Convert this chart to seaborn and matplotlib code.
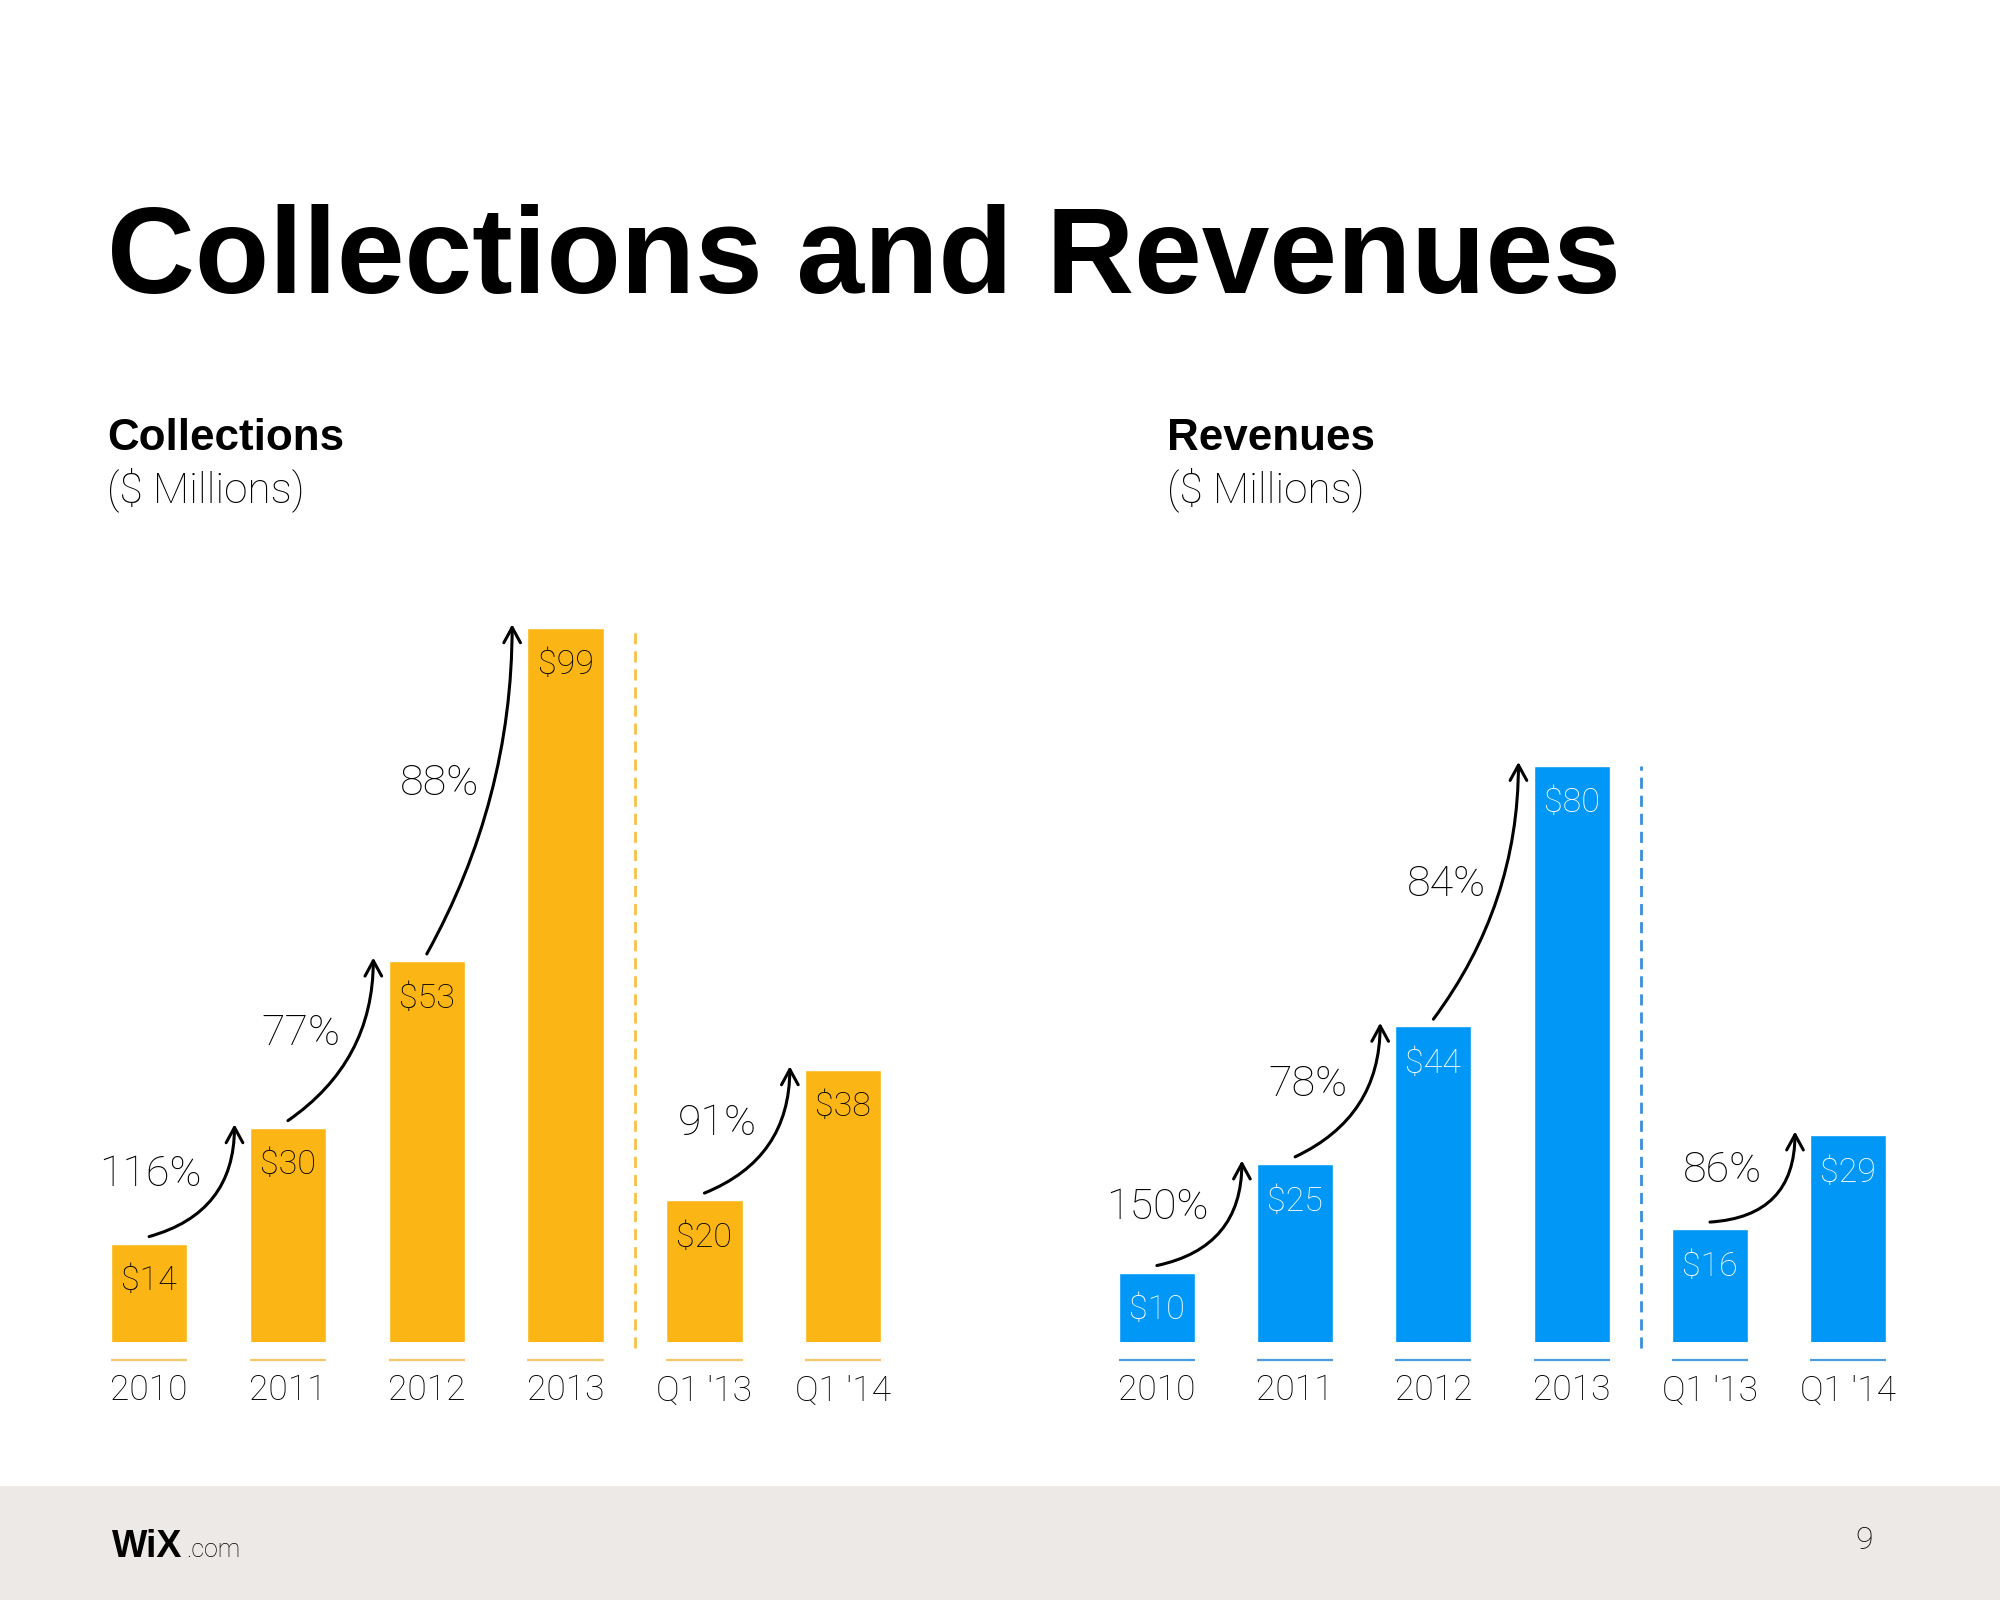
import numpy as np
import matplotlib
matplotlib.use("Agg")
import matplotlib.pyplot as plt
import seaborn as sns
from matplotlib.patches import Rectangle

# ---------------- data ----------------
categories = ["2010", "2011", "2012", "2013", "Q1 '13", "Q1 '14"]
collections = [14, 30, 53, 99, 20, 38]
revenues = [10, 25, 44, 80, 16, 29]
collections_labels = ["$14", "$30", "$53", "$99", "$20", "$38"]
revenues_labels = ["$10", "$25", "$44", "$80", "$16", "$29"]
growth_pairs = [(0, 1), (1, 2), (2, 3), (4, 5)]
collections_growth = ["116%", "77%", "88%", "91%"]
revenues_growth = ["150%", "78%", "84%", "86%"]

ORANGE = "#FBB616"
BLUE = "#0097F7"

sns.set_style("white")
plt.rcParams["font.family"] = ["Liberation Sans", "DejaVu Sans"]
plt.rcParams["text.color"] = "black"
plt.rcParams["xtick.color"] = "black"
LIGHT = ["Roboto", "Liberation Sans", "DejaVu Sans"]

W, H = 2000, 1600
fig = plt.figure(figsize=(20, 16), dpi=100)
fig.patch.set_facecolor("white")

# footer band
fig.add_artist(Rectangle((0, 0), 1, (H - 1486) / H, transform=fig.transFigure,
                         facecolor="#ECE9E6", edgecolor="none", zorder=0))

# titles
fig.text(107 / W, 1 - 293 / H, "Collections and Revenues", fontsize=87.6,
         fontweight="bold", va="baseline", ha="left", color="black")
for x0, name in [(107, "Collections"), (1167, "Revenues")]:
    fig.text(x0 / W, 1 - 450 / H, name, fontsize=31.7, fontweight="bold",
             va="baseline", ha="left", color="black")
    fig.text(x0 / W, 1 - 502 / H, "($ Millions)", fontsize=30.5, family=LIGHT,
             fontweight="light", va="baseline", ha="left", color="black")

# footer texts
fig.text(112 / W, 1 - 1557 / H, "WiX", fontsize=27, fontweight="bold",
         va="baseline", ha="left", color="black")
fig.text(186 / W, 1 - 1557 / H, ".com", fontsize=18, family=LIGHT,
         fontweight="light", va="baseline", ha="left", color="black")
fig.text(1864 / W, 1 - 1549 / H, "9", fontsize=23, family=LIGHT,
         fontweight="light", va="baseline", ha="center", color="black")

bottom_px, top_px = 1342, 600
ax_b = (H - bottom_px) / H
ax_h = (bottom_px - top_px) / H
ax_left = fig.add_axes([79.7 / W, ax_b, 833 / W, ax_h])
ax_right = fig.add_axes([1087.7 / W, ax_b, 829.7 / W, ax_h])

BAR_W = 0.55
Y_LO, Y_HI = 0.45, 102.85


def draw_panel(ax, vals, labels, growth, color, label_color, line_color, dash_color):
    sns.barplot(x=categories, y=vals, color=color, saturation=1, width=BAR_W,
                ax=ax, zorder=2)
    ax.set_xlim(-0.5, 5.5)
    ax.set_ylim(Y_LO, Y_HI)
    for s in ax.spines.values():
        s.set_visible(False)
    ax.set_yticks([])
    ax.set_xlabel("")
    ax.set_ylabel("")
    ax.set_facecolor("none")
    ax.tick_params(axis="x", length=0, pad=23)
    for t in ax.get_xticklabels():
        t.set_fontsize(25.5)
        t.set_family(LIGHT)
        t.set_fontweight("light")
        t.set_color("black")
    n = len(vals)
    idx = np.arange(n)
    # underline marks under each bar
    ax.hlines([Y_LO - 2.5] * n, idx - BAR_W / 2, idx + BAR_W / 2, color=line_color,
              lw=1.6, clip_on=False)
    # separator
    ax.vlines(3.5, Y_LO - 0.8, max(vals), color=dash_color, lw=2,
              linestyles=(0, (4, 2.5)), clip_on=False)
    # value labels
    for i, (v, lab) in enumerate(zip(vals, labels)):
        ax.annotate(lab, (i, v), xytext=(0, -27), textcoords="offset points",
                    ha="center", va="center", fontsize=24.5, family=LIGHT,
                    fontweight="light", color=label_color, zorder=3)
    # growth arrows
    for (i, j), g in zip(growth_pairs, growth):
        x1, y1 = i + 0.0, vals[i] + 1.0
        x2, y2 = j - 0.385, vals[j] + 0.5
        p1 = ax.transData.transform((x1, y1))
        p2 = ax.transData.transform((x2, y2))
        dx, dy = p2 - p1
        rad = 0.5 * dx / dy
        ax.annotate("", xy=(x2, y2), xytext=(x1, y1),
                    arrowprops=dict(arrowstyle="->,head_length=0.55,head_width=0.3",
                                    connectionstyle=f"arc3,rad={rad:.3f}",
                                    lw=2.2, color="black", shrinkA=0, shrinkB=0,
                                    mutation_scale=20),
                    annotation_clip=False, zorder=4)
        xm, ym = (x1 + x2) / 2, (y1 + y2) / 2
        ax.text(xm + 0.07, ym + 0.8, g, ha="right", va="center", fontsize=31,
                family=LIGHT, fontweight="light", color="black", clip_on=False)


draw_panel(ax_left, collections, collections_labels, collections_growth,
           ORANGE, "black", "#F6C66A", "#F8C047")
draw_panel(ax_right, revenues, revenues_labels, revenues_growth,
           BLUE, "white", "#4A9DE2", "#3A8EDB")

fig.savefig("out.png", dpi=100)
